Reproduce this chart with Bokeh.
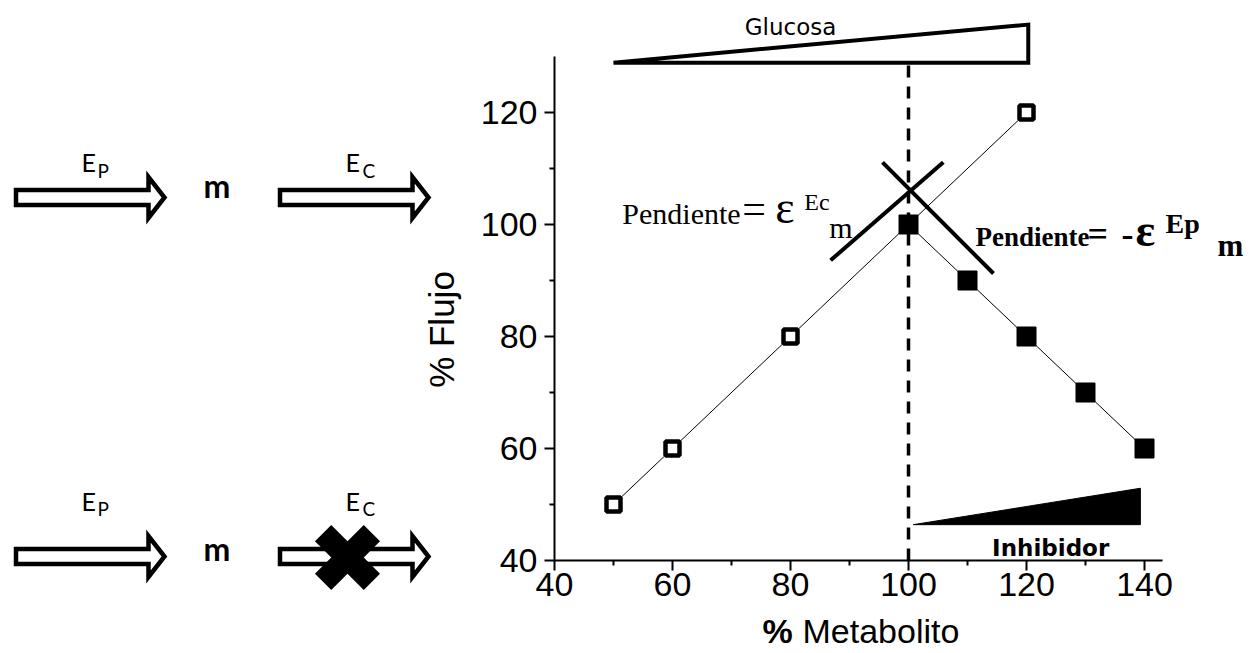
import math
from bokeh.plotting import figure
from bokeh.models import Range1d, FixedTicker
from bokeh.layouts import row, column
from bokeh.embed import file_html
from bokeh.resources import INLINE
from bokeh.core.properties import value

# ---------------- data ----------------
metabolito_abierto = [50, 60, 80, 100, 120]
flujo_abierto = [50, 60, 80, 100, 120]
metabolito_lleno = [100, 110, 120, 130, 140]
flujo_lleno = [100, 90, 80, 70, 60]
x_ticks = [40, 60, 80, 100, 120, 140]
x_minor = [50, 70, 90, 110, 130]
y_ticks = [40, 60, 80, 100, 120]
y_minor = [50, 70, 90, 110]
x_bounds = (40, 143)
y_bounds = (40, 130)
x_titulo = ["%", "Metabolito"]
y_titulo = "% Flujo"
referencia_x = 100
tangente_ec_x = [86.8, 105.9]
tangente_ec_y = [93.6, 111.1]
tangente_ep_x = [95.6, 114.4]
tangente_ep_y = [111.1, 91.25]
glucosa_x = [50, 120.3, 120.3]
glucosa_y = [128.9, 128.9, 135.7]
inhibidor_x = [100.8, 139.3, 139.3]
inhibidor_y = [46.4, 46.4, 52.9]

W, H = 1255, 653
W_LEFT = 462
FRAME_LEFT, FRAME_BOTTOM = 554, 560
MAIN_H = 610
PX_X, PX_Y = 5.9, 5.6

BLACK = "black"
SANS = value("Liberation Sans")
SERIF = value("Liberation Serif")
K_SERIF, K_SANS, K_LATO = 0.3375, 0.35, 0.38   # middle-of-box above baseline (em)

# ---------------- main chart ----------------
main_w = W - W_LEFT
x_end = 40 + (main_w - (FRAME_LEFT - W_LEFT)) / PX_X
y_end = 40 + FRAME_BOTTOM / PX_Y
p = figure(width=main_w, height=MAIN_H, output_backend="svg", toolbar_location=None,
           x_range=Range1d(40, x_end), y_range=Range1d(40, y_end),
           min_border_left=FRAME_LEFT - W_LEFT, min_border_right=0,
           min_border_top=0, min_border_bottom=MAIN_H - FRAME_BOTTOM)
p.grid.visible = False
p.outline_line_color = None
p.background_fill_color = "white"
p.border_fill_color = "white"

for ax, ticks, minor, bounds, standoff in ((p.xaxis, x_ticks, x_minor, x_bounds, 2),
                                            (p.yaxis, y_ticks, y_minor, y_bounds, 7)):
    ax.ticker = FixedTicker(ticks=ticks, minor_ticks=minor)
    ax.bounds = bounds
    ax.axis_line_width = 2
    ax.axis_line_color = BLACK
    ax.major_tick_line_width = 2
    ax.major_tick_line_color = BLACK
    ax.minor_tick_line_width = 2
    ax.minor_tick_line_color = BLACK
    ax.major_tick_out = 10
    ax.major_tick_in = 0
    ax.minor_tick_out = 5
    ax.minor_tick_in = 0
    ax.major_label_text_font = "Liberation Sans"
    ax.major_label_text_font_size = "34px"
    ax.major_label_text_color = BLACK
    ax.major_label_standoff = standoff

# Glucosa wedge
p.patch(glucosa_x, glucosa_y, fill_color="white", line_color=BLACK, line_width=4, line_join="miter")
p.text(x=[80], y=[135.2], text=["Glucosa"], text_align="center", text_baseline="middle",
       text_font=value("DejaVu Sans"), text_font_size="23px", text_color=BLACK)

# Inhibidor wedge
p.patch(inhibidor_x, inhibidor_y, fill_color=BLACK, line_color=BLACK, line_width=1)
p.text(x=[124.1], y=[42.3], text=["Inhibidor"], text_align="center", text_baseline="middle",
       text_font=value("DejaVu Sans"), text_font_style="bold", text_font_size="23px", text_color=BLACK)

# dashed reference line
p.segment(x0=[referencia_x], y0=[y_bounds[0]], x1=[referencia_x], y1=[129.6],
          line_color=BLACK, line_width=3.5, line_dash="12 9")

# tangent lines
p.line(tangente_ec_x, tangente_ec_y, line_color=BLACK, line_width=4)
p.line(tangente_ep_x, tangente_ep_y, line_color=BLACK, line_width=4)

# series
p.line(metabolito_abierto, flujo_abierto, line_color=BLACK, line_width=1)
p.line(metabolito_lleno, flujo_lleno, line_color=BLACK, line_width=1)
p.scatter(metabolito_abierto, flujo_abierto, marker="square", size=14,
          fill_color="white", line_color=BLACK, line_width=4.5)
p.scatter(metabolito_lleno, flujo_lleno, marker="square", size=19,
          fill_color=BLACK, line_color=BLACK, line_width=1)

# slope labels: pieces offset in screen pixels from a baseline anchor
def piece(fig, ax, ay, txt, dx, dy, size, style="normal", font=SERIF, k=K_SERIF):
    fig.text(x=[ax], y=[ay], text=[txt], x_offset=dx, y_offset=dy - k * size,
             text_align="left", text_baseline="middle",
             text_font=font, text_font_style=style, text_font_size=f"{size}px", text_color=BLACK)

a1 = (51.5, 100.2)
piece(p, *a1, "Pendiente", 0, 0, 30)
piece(p, *a1, "=", 120, 0, 42)
piece(p, *a1, "\u03b5", 153, 0, 46)
piece(p, *a1, "Ec", 182, -13, 24)
piece(p, *a1, "m", 207, 14, 30)

a2 = (111.36, 96.07)
piece(p, *a2, "Pendiente", 0, 0, 27, "bold")
piece(p, *a2, "=", 112, 0, 36, "bold")
piece(p, *a2, "-", 146, 0, 36, "bold")
piece(p, *a2, "\u03b5", 160, 0, 46, "bold")
piece(p, *a2, "Ep", 190, -14, 28, "bold")
piece(p, *a2, "m", 242, 9, 31, "bold")

# ---------------- x axis title strip ----------------
bottom_h = H - MAIN_H
bt = figure(width=main_w, height=bottom_h, output_backend="svg", toolbar_location=None,
            x_range=p.x_range, y_range=Range1d(0, bottom_h),
            x_axis_location=None, y_axis_location=None,
            min_border_left=FRAME_LEFT - W_LEFT, min_border_right=0,
            min_border_top=0, min_border_bottom=0)
bt.grid.visible = False
bt.outline_line_color = None
bt.background_fill_color = "white"
bt.border_fill_color = "white"
title_x = 40 + (762 - FRAME_LEFT) / PX_X
title_y = H - 630
bt.text(x=[title_x], y=[title_y], text=[x_titulo[0]], text_align="left", text_baseline="middle",
        text_font=SANS, text_font_style="bold", text_font_size="34px", text_color=BLACK)
bt.text(x=[title_x], y=[title_y], x_offset=40, text=[x_titulo[1]], text_align="left",
        text_baseline="middle", text_font=SANS, text_font_size="34px", text_color=BLACK)

# ---------------- left schematic ----------------
lf = figure(width=W_LEFT, height=H, output_backend="svg", toolbar_location=None,
            x_range=Range1d(0, W_LEFT), y_range=Range1d(0, H),
            x_axis_location=None, y_axis_location=None, min_border=0)
lf.grid.visible = False
lf.outline_line_color = None
lf.background_fill_color = "white"
lf.border_fill_color = "white"

def T(v):  # distance from top -> y coordinate
    return H - v

row_cy = [197, 556]          # arrow centre lines (from top)
arrow_x0 = [15.5, 279.5]     # left ends of the two arrows
body_len, head_len, hb, hh = 132.5, 16, 7.5, 20.5

xs, ys = [], []
for cy in row_cy:
    for x0 in arrow_x0:
        xn = x0 + body_len
        xt = xn + head_len
        xs.append([x0, xn, xn, xt, xn, xn, x0])
        ys.append([T(cy - hb), T(cy - hb), T(cy - hh), T(cy), T(cy + hh), T(cy + hb), T(cy + hb)])
lf.patches(xs, ys, fill_color="white", line_color=BLACK, line_width=4.5, line_join="miter")

LATO = value("Lato")

def ltext(x, baseline, txt, size, style="normal"):
    lf.text(x=[x], y=[T(baseline - K_LATO * size)], text=[txt], text_font=LATO,
            text_font_style=style, text_font_size=f"{size}px", text_baseline="middle",
            text_align="left", text_color=BLACK)

# (E baseline, subscript baseline, m baseline) for each row
row_text = [(171, 177, 197), (510, 515, 560)]
for e_base, sub_base, m_base in row_text:
    ltext(81, e_base, "E", 25)
    ltext(97, sub_base, "P", 19)
    ltext(345, e_base, "E", 25)
    ltext(362, sub_base, "C", 19)
    ltext(203, m_base, "m", 32, "bold")

# blocking cross on E_C (second row)
cx, cyx, d = 347, 557, 24.4
lf.segment(x0=[cx - d, cx - d], y0=[T(cyx - d), T(cyx + d)],
           x1=[cx + d, cx + d], y1=[T(cyx + d), T(cyx - d)],
           line_color=BLACK, line_width=23, line_cap="butt")

# y axis title
lf.text(x=[441], y=[T(329)], text=[y_titulo], angle=math.pi / 2, text_align="center",
        text_baseline="middle", text_font=SANS, text_font_size="35px", text_color=BLACK)

layout = row(column(lf, spacing=0), column(p, bt, spacing=0), spacing=0)
open("out.html", "w").write(file_html(layout, INLINE))
